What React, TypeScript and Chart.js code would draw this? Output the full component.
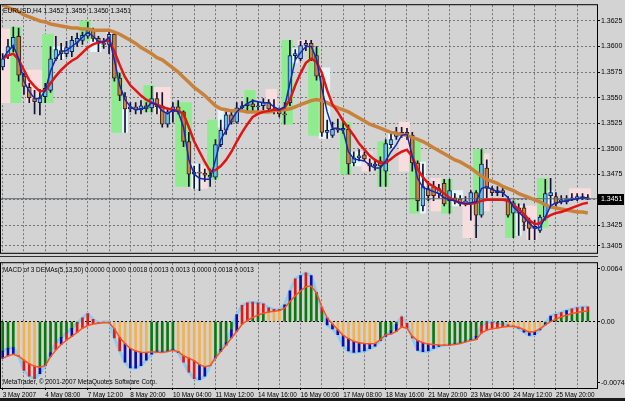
import React, { useEffect, useRef } from 'react';
import { Chart, registerables } from 'chart.js';

Chart.register(...registerables);

// ---------------- text ----------------
const symbolTitle = 'EURUSD,H4 1.3452 1.3455 1.3450 1.3451';
const macdTitle = 'MACD of 3 DEMAs(5,13,50) 0.0000 0.0000 0.0018 0.0013 0.0013 0.0000 0.0018 0.0013';
const copyrightText = 'MetaTrader, \u00a9 2001-2007 MetaQuotes Software Corp.';

const dateLabels = ['3 May 2007', '4 May 08:00', '7 May 12:00', '8 May 20:00', '10 May 04:00', '11 May 12:00', '14 May 16:00', '16 May 00:00', '17 May 08:00', '18 May 16:00', '21 May 20:00', '23 May 04:00', '24 May 12:00', '25 May 20:00'];
const gridBars = [0, 4, 8, 12, 16, 20, 24, 28, 32, 36, 40, 44, 48, 52, 56, 60, 64, 68, 72, 76, 80, 84, 88, 92, 96, 100, 104, 108];
const labelEvery = 8;

const priceTicks = [1.3625, 1.36, 1.3575, 1.355, 1.3525, 1.35, 1.3475, 1.345, 1.3425, 1.3405];
const macdTicks = [0.0064, 0, -0.0074];
const bidPrice = 1.3451;

// ---------------- candles (EURUSD H4) ----------------
const opens = [
  1.3580, 1.3591, 1.3599, 1.3610, 1.3571, 1.3560, 1.3549, 1.3545, 1.3551, 1.3557,
  1.3588, 1.3596, 1.3593, 1.3595, 1.3604, 1.3606, 1.3610, 1.3615, 1.3608, 1.3603,
  1.3602, 1.3612, 1.3569, 1.3551, 1.3539, 1.3541, 1.3538, 1.3542, 1.3540, 1.3549,
  1.3542, 1.3524, 1.3536, 1.3541, 1.3536, 1.3507, 1.3475, 1.3477, 1.3476, 1.3474,
  1.3472, 1.3504, 1.3518, 1.3533, 1.3526, 1.3540, 1.3542, 1.3544, 1.3541, 1.3542,
  1.3545, 1.3539, 1.3537, 1.3534, 1.3545, 1.3591, 1.3588, 1.3601, 1.3603, 1.3591,
  1.3571, 1.3516, 1.3513, 1.3520, 1.3518, 1.3519, 1.3486, 1.3491, 1.3494, 1.3486,
  1.3483, 1.3488, 1.3478, 1.3504, 1.3512, 1.3513, 1.3516, 1.3513, 1.3486, 1.3444,
  1.3461, 1.3463, 1.3456, 1.3466, 1.3449, 1.3452, 1.3451, 1.3446, 1.3446, 1.3457,
  1.3435, 1.3481, 1.3461, 1.3457, 1.3459, 1.3449, 1.3437, 1.3442, 1.3442, 1.3428,
  1.3422, 1.3420, 1.3433, 1.3454, 1.3453, 1.3448, 1.3448, 1.3451, 1.3451, 1.3451,
  1.3452,
];
const highs = [
  1.3593, 1.3607, 1.3619, 1.3618, 1.3574, 1.3564, 1.3557, 1.3558, 1.3564, 1.3600,
  1.3610, 1.3603, 1.3605, 1.3610, 1.3613, 1.3614, 1.3624, 1.3618, 1.3610, 1.3608,
  1.3614, 1.3614, 1.3574, 1.3555, 1.3545, 1.3545, 1.3547, 1.3545, 1.3561, 1.3555,
  1.3555, 1.3540, 1.3545, 1.3547, 1.3537, 1.3516, 1.3483, 1.3485, 1.3480, 1.3480,
  1.3509, 1.3528, 1.3536, 1.3537, 1.3545, 1.3546, 1.3550, 1.3548, 1.3546, 1.3549,
  1.3548, 1.3548, 1.3540, 1.3545, 1.3606, 1.3597, 1.3605, 1.3606, 1.3606, 1.3600,
  1.3574, 1.3528, 1.3526, 1.3529, 1.3528, 1.3523, 1.3497, 1.3499, 1.3497, 1.3490,
  1.3489, 1.3492, 1.3509, 1.3514, 1.3521, 1.3521, 1.3520, 1.3516, 1.3488, 1.3485,
  1.3468, 1.3468, 1.3465, 1.3470, 1.3470, 1.3456, 1.3454, 1.3453, 1.3459, 1.3459,
  1.3499, 1.3489, 1.3463, 1.3463, 1.3462, 1.3453, 1.3449, 1.3446, 1.3446, 1.3432,
  1.3430, 1.3435, 1.3470, 1.3471, 1.3457, 1.3454, 1.3454, 1.3456, 1.3456, 1.3456,
  1.3455,
];
const lows = [
  1.3577, 1.3588, 1.3595, 1.3566, 1.3553, 1.3545, 1.3534, 1.3533, 1.3545, 1.3555,
  1.3586, 1.3587, 1.3590, 1.3590, 1.3600, 1.3602, 1.3608, 1.3605, 1.3595, 1.3598,
  1.3593, 1.3566, 1.3547, 1.3516, 1.3536, 1.3534, 1.3534, 1.3536, 1.3536, 1.3534,
  1.3521, 1.3521, 1.3526, 1.3534, 1.3502, 1.3463, 1.3461, 1.3459, 1.3468, 1.3463,
  1.3470, 1.3502, 1.3514, 1.3524, 1.3525, 1.3537, 1.3536, 1.3537, 1.3537, 1.3538,
  1.3537, 1.3534, 1.3531, 1.3524, 1.3542, 1.3587, 1.3586, 1.3596, 1.3586, 1.3567,
  1.3512, 1.3510, 1.3511, 1.3516, 1.3515, 1.3475, 1.3483, 1.3488, 1.3488, 1.3478,
  1.3479, 1.3463, 1.3463, 1.3501, 1.3509, 1.3511, 1.3509, 1.3478, 1.3439, 1.3439,
  1.3449, 1.3449, 1.3452, 1.3444, 1.3437, 1.3446, 1.3444, 1.3444, 1.3430, 1.3413,
  1.3433, 1.3452, 1.3454, 1.3454, 1.3453, 1.3433, 1.3413, 1.3415, 1.3420, 1.3411,
  1.3411, 1.3418, 1.3430, 1.3442, 1.3442, 1.3446, 1.3446, 1.3449, 1.3449, 1.3450,
  1.3450,
];
const closes = [
  1.3588, 1.3600, 1.3609, 1.3572, 1.3561, 1.3550, 1.3546, 1.3550, 1.3559, 1.3588,
  1.3597, 1.3593, 1.3599, 1.3606, 1.3608, 1.3611, 1.3616, 1.3608, 1.3603, 1.3602,
  1.3612, 1.3569, 1.3552, 1.3539, 1.3541, 1.3538, 1.3542, 1.3539, 1.3549, 1.3541,
  1.3524, 1.3536, 1.3541, 1.3536, 1.3507, 1.3475, 1.3477, 1.3476, 1.3474, 1.3472,
  1.3504, 1.3518, 1.3533, 1.3526, 1.3540, 1.3542, 1.3544, 1.3541, 1.3542, 1.3545,
  1.3539, 1.3537, 1.3534, 1.3533, 1.3591, 1.3593, 1.3601, 1.3603, 1.3588, 1.3571,
  1.3516, 1.3518, 1.3519, 1.3518, 1.3520, 1.3485, 1.3491, 1.3493, 1.3490, 1.3483,
  1.3485, 1.3483, 1.3505, 1.3509, 1.3515, 1.3516, 1.3513, 1.3486, 1.3449, 1.3463,
  1.3454, 1.3454, 1.3461, 1.3446, 1.3459, 1.3449, 1.3446, 1.3449, 1.3457, 1.3435,
  1.3485, 1.3461, 1.3457, 1.3459, 1.3457, 1.3435, 1.3447, 1.3437, 1.3428, 1.3422,
  1.3424, 1.3433, 1.3456, 1.3457, 1.3446, 1.3450, 1.3451, 1.3452, 1.3453, 1.3453,
  1.3451,
];

// ---------------- moving averages ----------------
const fastMA = [
  1.3588, 1.3595, 1.3601, 1.3588, 1.3566, 1.3556, 1.3549, 1.3549, 1.3557, 1.3576,
  1.3588, 1.3595, 1.3596, 1.3600, 1.3604, 1.3609, 1.3614, 1.3610, 1.3605, 1.3604,
  1.3609, 1.3587, 1.3562, 1.3548, 1.3541, 1.3538, 1.3539, 1.3540, 1.3545, 1.3543,
  1.3537, 1.3534, 1.3538, 1.3536, 1.3521, 1.3489, 1.3475, 1.3471, 1.3470, 1.3470,
  1.3489, 1.3509, 1.3518, 1.3528, 1.3536, 1.3541, 1.3544, 1.3547, 1.3546, 1.3545,
  1.3545, 1.3541, 1.3538, 1.3541, 1.3564, 1.3587, 1.3594, 1.3600, 1.3600, 1.3588,
  1.3559, 1.3536, 1.3520, 1.3520, 1.3518, 1.3497, 1.3490, 1.3489, 1.3488, 1.3484,
  1.3481, 1.3481, 1.3488, 1.3497, 1.3504, 1.3513, 1.3514, 1.3493, 1.3471, 1.3462,
  1.3460, 1.3458, 1.3456, 1.3452, 1.3450, 1.3449, 1.3447, 1.3446, 1.3447, 1.3448,
  1.3461, 1.3463, 1.3460, 1.3458, 1.3457, 1.3452, 1.3443, 1.3438, 1.3433, 1.3427,
  1.3422, 1.3423, 1.3433, 1.3444, 1.3447, 1.3448, 1.3449, 1.3450, 1.3451, 1.3452,
  1.3452,
];
const midMA = [
  1.3588, 1.3591, 1.3593, 1.3587, 1.3577, 1.3567, 1.3561, 1.3556, 1.3557, 1.3564,
  1.3571, 1.3577, 1.3582, 1.3586, 1.3589, 1.3594, 1.3599, 1.3602, 1.3604, 1.3605,
  1.3606, 1.3595, 1.3582, 1.3570, 1.3562, 1.3557, 1.3552, 1.3548, 1.3545, 1.3543,
  1.3541, 1.3539, 1.3538, 1.3537, 1.3534, 1.3521, 1.3507, 1.3497, 1.3487, 1.3478,
  1.3479, 1.3483, 1.3489, 1.3497, 1.3507, 1.3516, 1.3524, 1.3531, 1.3534, 1.3536,
  1.3537, 1.3538, 1.3538, 1.3540, 1.3548, 1.3562, 1.3574, 1.3584, 1.3588, 1.3585,
  1.3574, 1.3557, 1.3543, 1.3536, 1.3527, 1.3520, 1.3513, 1.3505, 1.3499, 1.3493,
  1.3489, 1.3486, 1.3486, 1.3490, 1.3494, 1.3497, 1.3499, 1.3492, 1.3480, 1.3472,
  1.3466, 1.3463, 1.3460, 1.3456, 1.3452, 1.3449, 1.3447, 1.3446, 1.3446, 1.3447,
  1.3449, 1.3450, 1.3450, 1.3450, 1.3450, 1.3449, 1.3445, 1.3441, 1.3436, 1.3430,
  1.3426, 1.3427, 1.3432, 1.3435, 1.3437, 1.3438, 1.3440, 1.3442, 1.3444, 1.3446,
  1.3447,
];
const slowMA = [
  1.3641, 1.3638, 1.3636, 1.3634, 1.3631, 1.3629, 1.3627, 1.3625, 1.3624, 1.3622,
  1.3621, 1.3620, 1.3619, 1.3618, 1.3618, 1.3617, 1.3617, 1.3616, 1.3616, 1.3616,
  1.3616, 1.3614, 1.3612, 1.3609, 1.3606, 1.3603, 1.3599, 1.3596, 1.3593, 1.3589,
  1.3587, 1.3583, 1.3579, 1.3575, 1.3570, 1.3565, 1.3560, 1.3556, 1.3552, 1.3547,
  1.3542, 1.3539, 1.3538, 1.3537, 1.3537, 1.3537, 1.3536, 1.3536, 1.3536, 1.3536,
  1.3536, 1.3537, 1.3538, 1.3538, 1.3539, 1.3541, 1.3543, 1.3545, 1.3547, 1.3548,
  1.3547, 1.3545, 1.3542, 1.3540, 1.3538, 1.3536, 1.3533, 1.3530, 1.3527, 1.3524,
  1.3522, 1.3520, 1.3518, 1.3516, 1.3515, 1.3514, 1.3513, 1.3511, 1.3509, 1.3507,
  1.3504, 1.3501, 1.3498, 1.3495, 1.3492, 1.3489, 1.3487, 1.3484, 1.3481, 1.3477,
  1.3473, 1.3470, 1.3468, 1.3466, 1.3463, 1.3461, 1.3459, 1.3456, 1.3454, 1.3452,
  1.3450, 1.3448, 1.3445, 1.3443, 1.3442, 1.3441, 1.3440, 1.3439, 1.3438, 1.3438,
  1.3437,
];

// ---------------- highlighted zones behind candles ----------------
const zoneFrom = [0, 2, 5, 8, 10, 15, 17, 20, 21, 23, 27, 29, 33, 36, 38, 39, 41, 46, 50, 53, 55, 56, 58, 60, 64, 66, 68, 71, 73, 75, 77, 79, 81, 83, 85, 87, 89, 91, 95, 97, 99, 101, 103, 107];
const zoneTo = [1, 3, 7, 9, 11, 16, 18, 20, 22, 23, 28, 31, 35, 37, 38, 40, 41, 47, 51, 54, 55, 57, 59, 61, 65, 67, 69, 72, 73, 76, 78, 79, 82, 84, 86, 88, 90, 91, 96, 97, 100, 102, 103, 110];
const zoneHigh = [1.3617, 1.3619, 1.3577, 1.3612, 1.3600, 1.3625, 1.3607, 1.3614, 1.3574, 1.3550, 1.3562, 1.3560, 1.3545, 1.3485, 1.3483, 1.3528, 1.3540, 1.3557, 1.3558, 1.3606, 1.3598, 1.3606, 1.3598, 1.3579, 1.3526, 1.3497, 1.3497, 1.3507, 1.3518, 1.3526, 1.3507, 1.3487, 1.3471, 1.3470, 1.3459, 1.3452, 1.3499, 1.3495, 1.3449, 1.3444, 1.3444, 1.3471, 1.3459, 1.3461];
const zoneLow = [1.3545, 1.3545, 1.3545, 1.3545, 1.3588, 1.3606, 1.3595, 1.3607, 1.3516, 1.3516, 1.3536, 1.3534, 1.3463, 1.3461, 1.3461, 1.3470, 1.3521, 1.3536, 1.3536, 1.3524, 1.3584, 1.3598, 1.3513, 1.3510, 1.3475, 1.3483, 1.3478, 1.3463, 1.3502, 1.3478, 1.3437, 1.3437, 1.3439, 1.3437, 1.3444, 1.3413, 1.3437, 1.3439, 1.3413, 1.3415, 1.3411, 1.3423, 1.3442, 1.3451];
const zoneKind = 'pgpgcgcpgcgpgcpgcgpgcpgcgcpgcpgcpgcpgpgcpgcp';

// ---------------- MACD of 3 DEMAs ----------------
const macdValues = [
  -0.00354, -0.00322, -0.00314, -0.00413, -0.00590, -0.00660, -0.00688, -0.00629, -0.00523, -0.00373,
  -0.00255, -0.00189, -0.00138, -0.00079, -0.00020, 0.00047, 0.00098, 0.00028, -0.00012, 0.00000,
  0.00000, -0.00197, -0.00354, -0.00491, -0.00558, -0.00562, -0.00531, -0.00464, -0.00393, -0.00354,
  -0.00365, -0.00354, -0.00334, -0.00373, -0.00491, -0.00609, -0.00688, -0.00700, -0.00660, -0.00531,
  -0.00424, -0.00334, -0.00255, -0.00098, 0.00086, 0.00197, 0.00228, 0.00236, 0.00228, 0.00216,
  0.00169, 0.00149, 0.00149, 0.00204, 0.00373, 0.00519, 0.00558, 0.00590, 0.00558, 0.00354,
  0.00118, -0.00039, -0.00086, -0.00157, -0.00295, -0.00354, -0.00373, -0.00365, -0.00354, -0.00326,
  -0.00295, -0.00228, -0.00177, -0.00110, -0.00031, 0.00059, -0.00020, -0.00197, -0.00346, -0.00362,
  -0.00354, -0.00322, -0.00299, -0.00283, -0.00275, -0.00267, -0.00259, -0.00236, -0.00216, -0.00177,
  -0.00047, 0.00000, -0.00008, -0.00020, -0.00031, -0.00039, -0.00051, -0.00079, -0.00126, -0.00165,
  -0.00157, -0.00098, -0.00020, 0.00067, 0.00090, 0.00110, 0.00135, 0.00155, 0.00170, 0.00178,
  0.00180,
];
const signalValues = [
  -0.00444, -0.00413, -0.00393, -0.00417, -0.00464, -0.00511, -0.00538, -0.00550, -0.00531, -0.00424,
  -0.00342, -0.00275, -0.00224, -0.00177, -0.00130, -0.00079, -0.00047, -0.00028, -0.00020, -0.00012,
  -0.00012, -0.00086, -0.00189, -0.00267, -0.00322, -0.00354, -0.00369, -0.00373, -0.00365, -0.00369,
  -0.00373, -0.00362, -0.00346, -0.00362, -0.00413, -0.00440, -0.00472, -0.00520, -0.00545, -0.00530,
  -0.00440, -0.00362, -0.00283, -0.00197, -0.00118, -0.00031, 0.00016, 0.00051, 0.00079, 0.00102,
  0.00118, 0.00126, 0.00134, 0.00165, 0.00244, 0.00314, 0.00373, 0.00424, 0.00432, 0.00346,
  0.00177, 0.00047, -0.00028, -0.00098, -0.00165, -0.00204, -0.00236, -0.00255, -0.00263, -0.00267,
  -0.00263, -0.00216, -0.00157, -0.00149, -0.00118, -0.00063, -0.00079, -0.00177, -0.00228, -0.00255,
  -0.00271, -0.00275, -0.00283, -0.00285, -0.00283, -0.00275, -0.00263, -0.00244, -0.00228, -0.00216,
  -0.00138, -0.00102, -0.00086, -0.00075, -0.00063, -0.00059, -0.00059, -0.00067, -0.00098, -0.00126,
  -0.00118, -0.00086, -0.00039, 0.00000, 0.00031, 0.00059, 0.00079, 0.00098, 0.00112, 0.00122,
  0.00130,
];
// G = green / O = orange for the zero-to-line part; R = red / B = blue for the part between the lines
const lowerState = 'GGGOOOOGGG' + 'GGGGGGGGOO' + 'OOOOOOOOGG' + 'GGGOOOOOOO' + 'GGGGGGGGGG' + 'OOOGGGGGGG' + 'GGOOOOOOOO' + 'OGGGGGOOOO' + 'OGOOGGGGGG' + 'GGGGGOOOOO' + 'OOGGGGGGGGG';
const stripeState = 'BBBRRRRBBB' + 'RBRBRRRRRR' + 'RRRBBBBBBB' + 'BBBBRRRBBB' + 'BBBBBRRRRR' + 'RRRBBRBRBR' + 'RBBBBBBBBB' + 'BBBBBRRRBB' + 'BBBBBBBBBB' + 'RRRRRRRBBB' + 'BBBBRRBRRRR';

// ---------------- geometry / style ----------------
const X_MIN = -0.312;
const X_MAX = 111.72;
const PRICE_MAX = 1.36404;
const PRICE_MIN = 1.33981;
const MACD_MAX = 0.007075;
const MACD_MIN = -0.008019;

const BG = '#d3d3d3';
const GRID = '#767676';
const FONT = '"Liberation Sans", Arial, sans-serif';
const NARROW = '"Liberation Sans Narrow", "Liberation Sans", Arial, sans-serif';

const frameAndText = (id: string, draw: (chart: any) => void) => ({
  id,
  afterDraw(chart: any) {
    const { ctx, chartArea: a } = chart;
    ctx.save();
    ctx.strokeStyle = '#000';
    ctx.lineWidth = 1;
    ctx.strokeRect(a.left - 0.5, a.top - 0.5, a.right - a.left + 1, a.bottom - a.top + 1);
    ctx.fillStyle = '#000';
    ctx.textBaseline = 'middle';
    ctx.textAlign = 'left';
    draw(chart);
    ctx.restore();
  },
});

export default function App() {
  const mainRef = useRef<HTMLCanvasElement>(null);
  const macdRef = useRef<HTMLCanvasElement>(null);

  useEffect(() => {
    const xy = (arr: number[]) => arr.map((v, i) => ({ x: i, y: v }));

    const wickData = highs.map((h, i) => ({ x: i, y: [lows[i], h] }));
    const bodyData = opens.map((o, i) => ({ x: i, y: [o, closes[i]] }));
    const bodyFill = opens.map((o, i) => (closes[i] >= o ? '#6cc0e0' : '#c5834a'));
    const bodyEdge = opens.map((o, i) => (closes[i] >= o ? '#0c1c60' : '#3a2210'));

    const zoneColors: Record<string, string> = { g: '#8eec8e', p: '#f7dddd', c: '#e6f5f7' };
    const zoneData: any[] = [];
    const zoneFill: string[] = [];
    zoneFrom.forEach((f, z) => {
      for (let i = f; i <= zoneTo[z]; i++) {
        zoneData.push({ x: i, y: [zoneLow[z], zoneHigh[z]] });
        zoneFill.push(zoneColors[zoneKind[z]]);
      }
    });

    const mainDecor = frameAndText('mainDecor', (chart) => {
      const { ctx, chartArea: a, scales } = chart;
      ctx.font = '6.7px ' + FONT;
      ctx.fillText(symbolTitle, a.left + 2, a.top + 5.5);
      const y = Math.round(scales.y.getPixelForValue(bidPrice));
      ctx.fillRect(a.right + 1, y - 5, 26, 11);
      ctx.fillStyle = '#fff';
      ctx.font = '7px ' + NARROW;
      ctx.fillText(bidPrice.toFixed(4), a.right + 4, y + 0.5);
    });

    const main = new Chart(mainRef.current as HTMLCanvasElement, {
      type: 'bar',
      data: {
        datasets: [
          { type: 'line', label: 'bid', data: [{ x: X_MIN, y: bidPrice }, { x: X_MAX, y: bidPrice }], borderColor: '#5c6670', borderWidth: 1, pointRadius: 0, order: 4 } as any,
          { type: 'line', label: 'fast', data: xy(fastMA), borderColor: '#1428b4', borderWidth: 1.5, pointRadius: 0, order: 1 } as any,
          { type: 'line', label: 'mid', data: xy(midMA), borderColor: '#e41414', borderWidth: 2.5, pointRadius: 0, order: 2 } as any,
          { type: 'line', label: 'slow', data: xy(slowMA), borderColor: '#c8823c', borderWidth: 3.5, pointRadius: 0, order: 3 } as any,
          { type: 'bar', label: 'bodies', data: bodyData, backgroundColor: bodyFill, borderColor: bodyEdge, borderWidth: 1, borderSkipped: false, barThickness: 4, grouped: false, order: 5 } as any,
          { type: 'bar', label: 'wicks', data: wickData, backgroundColor: '#101030', barThickness: 1, grouped: false, order: 6 } as any,
          { type: 'bar', label: 'zones', data: zoneData, backgroundColor: zoneFill, barPercentage: 1, categoryPercentage: 1, grouped: false, order: 7 } as any,
        ],
      },
      options: {
        responsive: false,
        animation: false,
        devicePixelRatio: 1,
        events: [],
        layout: { padding: { top: 1, left: 1, right: 0, bottom: 5 } },
        plugins: { legend: { display: false }, tooltip: { enabled: false } },
        scales: {
          x: {
            type: 'linear', min: X_MIN, max: X_MAX, offset: false,
            afterBuildTicks: (s: any) => { s.ticks = gridBars.map((v) => ({ value: v })); },
            ticks: { display: false },
            grid: { color: GRID, lineWidth: 1, drawTicks: false, offset: false },
            border: { display: false, dash: [2, 2] },
          },
          y: {
            type: 'linear', position: 'right', min: PRICE_MIN, max: PRICE_MAX,
            afterBuildTicks: (s: any) => { s.ticks = priceTicks.map((v) => ({ value: v })); },
            afterFit: (s: any) => { s.width = 28; },
            ticks: { color: '#000', padding: 1, font: { family: NARROW, size: 7 }, callback: (v: any) => Number(v).toFixed(4) },
            grid: { color: GRID, lineWidth: 1, drawTicks: true, tickLength: 3, tickColor: '#000' },
            border: { display: false, dash: [2, 2] },
          },
        },
      } as any,
      plugins: [mainDecor],
    });

    const lowerData: any[] = [];
    const lowerFill: string[] = [];
    const stripeData: any[] = [];
    const stripeFill: string[] = [];
    macdValues.forEach((m, i) => {
      const s = signalValues[i];
      stripeData.push({ x: i, y: [m, s] });
      stripeFill.push(stripeState[i] === 'R' ? '#e01818' : '#0c0ca8');
      if (m * s >= 0) {
        const near = Math.abs(m) < Math.abs(s) ? m : s;
        lowerData.push({ x: i, y: [0, near] });
        lowerFill.push(lowerState[i] === 'O' ? '#f4b24e' : '#0a780a');
      }
    });

    const macdDecor = frameAndText('macdDecor', (chart) => {
      const { ctx, chartArea: a } = chart;
      ctx.font = '6.4px ' + FONT;
      ctx.fillText(macdTitle, a.left + 2, a.top + 7.5);
      ctx.fillText(copyrightText, a.left + 2, a.bottom - 5.5);
    });

    const macd = new Chart(macdRef.current as HTMLCanvasElement, {
      type: 'bar',
      data: {
        datasets: [
          { type: 'line', label: 'signal', data: xy(signalValues), borderColor: '#ff5020', borderWidth: 1.5, pointRadius: 0, order: 1 } as any,
          { type: 'bar', label: 'stripes', data: stripeData, backgroundColor: stripeFill, barThickness: 2, grouped: false, order: 3 } as any,
          { type: 'bar', label: 'base', data: lowerData, backgroundColor: lowerFill, barThickness: 2, grouped: false, order: 4 } as any,
          { type: 'line', label: 'macd', data: xy(macdValues), borderColor: '#8ccdf0', borderWidth: 3, pointRadius: 0, order: 6 } as any,
        ],
      },
      options: {
        responsive: false,
        animation: false,
        devicePixelRatio: 1,
        events: [],
        layout: { padding: { top: 2, left: 1, right: 0, bottom: 0 } },
        plugins: { legend: { display: false }, tooltip: { enabled: false } },
        scales: {
          x: {
            type: 'linear', min: X_MIN, max: X_MAX, offset: false,
            afterBuildTicks: (s: any) => { s.ticks = gridBars.map((v) => ({ value: v })); },
            afterFit: (s: any) => { s.height = 13; },
            ticks: {
              color: '#000', padding: 1, align: 'start', maxRotation: 0, autoSkip: false,
              font: { family: FONT, size: 6.4 },
              callback: (v: any) => (Number(v) % labelEvery === 0 ? dateLabels[Number(v) / labelEvery] || '' : ''),
            },
            grid: {
              color: GRID, lineWidth: 1, drawTicks: true, tickLength: 2, offset: false,
              tickColor: (c: any) => (c.tick && c.tick.value % labelEvery === 0 ? '#000' : 'rgba(0,0,0,0)'),
            },
            border: { display: false, dash: [2, 2] },
          },
          y: {
            type: 'linear', position: 'right', min: MACD_MIN, max: MACD_MAX,
            afterBuildTicks: (s: any) => { s.ticks = macdTicks.map((v) => ({ value: v })); },
            afterFit: (s: any) => { s.width = 28; },
            ticks: { color: '#000', padding: 1, font: { family: NARROW, size: 7 }, callback: (v: any) => (Number(v) === 0 ? '0.00' : Number(v).toFixed(4)) },
            grid: {
              color: (c: any) => (c.tick && c.tick.value === 0 ? '#000' : 'rgba(0,0,0,0)'),
              lineWidth: 1, drawTicks: true, tickLength: 3, tickColor: '#000',
            },
            border: { display: false, dash: [2, 2] },
          },
        },
      } as any,
      plugins: [macdDecor],
    });

    return () => {
      main.destroy();
      macd.destroy();
    };
  }, []);

  return (
    <div style={{ position: 'fixed', left: 0, top: 0, width: 625, height: 401, background: BG, overflow: 'hidden' }}>
      <canvas ref={mainRef} width={625} height={258} style={{ position: 'absolute', left: 0, top: 0, width: 625, height: 258 }} />
      <div style={{ position: 'absolute', left: 0, top: 256, width: 598, height: 1, background: '#303030' }} />
      <canvas ref={macdRef} width={625} height={143} style={{ position: 'absolute', left: 0, top: 258, width: 625, height: 143 }} />
      <div style={{ position: 'absolute', left: 0, top: 398, width: 625, height: 3, background: '#1a1a1a' }} />
    </div>
  );
}
